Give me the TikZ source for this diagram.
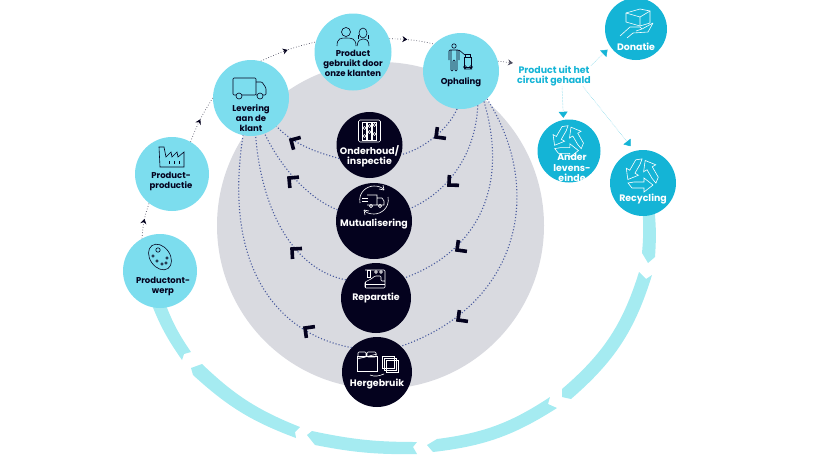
\documentclass[tikz,border=0pt]{standalone}
\usepackage{fontspec}
\setmainfont{Poppins}
\usepackage{xcolor}
\usetikzlibrary{arrows.meta,decorations.markings}
\definecolor{lightc}{HTML}{7CDDEE}
\definecolor{darkc}{HTML}{14B4D6}
\definecolor{bandc}{HTML}{A5EBF1}
\definecolor{greyc}{HTML}{D9DAE0}
\definecolor{inkc}{HTML}{04021E}
\definecolor{dotc}{HTML}{4A5B9E}
\tikzset{
    lightnode/.style={circle, fill=lightc, minimum size=#1, inner sep=0pt},
    darknode/.style={circle, fill=darkc, minimum size=#1, inner sep=0pt},
    blacknode/.style={circle, fill=inkc, minimum size=#1, inner sep=0pt},
    inktext/.style={inner sep=0pt, align=center, text=inkc, font=\bfseries\fontsize{8.5}{10}\selectfont},
    whitetext/.style={inner sep=0pt, align=center, text=white, font=\bfseries\fontsize{9.4}{10.5}\selectfont},
    outtext/.style={inner sep=0pt, align=center, text=darkc, font=\bfseries\fontsize{9.4}{10.5}\selectfont},
    band/.style={fill=bandc},
    cycleline/.style={dotted, line width=0.7pt, draw=inkc!70},
    midarrow/.style={postaction={decorate}, decoration={markings, mark=at position #1 with {\arrow[inkc]{Stealth[length=5pt,width=6pt]}}}},
    loopline/.style={line width=1.1pt, dash pattern=on 1.1pt off 2pt, draw=dotc},
    outline/.style={-{Triangle[length=6pt,width=9pt,color=darkc]}, densely dotted, line width=0.5pt, draw=darkc!60},
    inkicon/.style={draw=inkc, line width=0.6pt},
    whiteicon/.style={draw=white, line width=0.6pt},
    chevron/.pic={\draw[inkc, line width=3.6pt] (10,0) -- (0,0) -- (0,10);},
    truckicon/.pic={
        \draw[inkicon, rounded corners=1pt] (-16,-10) rectangle (7,7);
        \draw[inkicon, rounded corners=1pt] (7,-6) -- (13,-6) -- (17,0) -- (17,7) -- (7,7);
        \draw[inkicon, fill=lightc] (-10,8) circle (3) (11,8) circle (3);
    },
    peopleicon/.pic={
        \draw[inkicon] (-7,-6) circle (4.5);
        \draw[inkicon] (-16,8) .. controls (-16,0) and (-12,0) .. (-7,0) .. controls (-2,0) and (3,0) .. (3,8);
        \draw[inkicon] (10,-5) ellipse (4 and 5);
        \draw[inkicon] (5,-3) -- (5,1) (15,-3) -- (15,1);
        \draw[inkicon] (4,8) .. controls (5,2) and (7,1) .. (10,1) .. controls (14,1) and (16,3) .. (16,8);
    },
    factoryicon/.pic={
        \draw[inkicon] (-12,10) -- (-13,-10) -- (-8,-10) -- (-6,0) -- (-1,-5) -- (0,0) -- (5,-5) -- (6,0) -- (12,-5) -- (12,10) -- cycle;
        \draw[inkicon] (-3,4) -- (-3,7) (2,4) -- (2,7) (7,4) -- (7,7);
    },
    paletteicon/.pic={
        \draw[inkicon, rotate=35] (0,0) ellipse (10 and 14);
        \draw[inkicon] (-2,-7) circle (2.2) (-7,-1) circle (1.3) (-3,4) circle (1.3) (2,7) circle (1.3) (6,6) circle (1.3) (7,1) circle (1.3);
    },
    persontrolley/.pic={
        \draw[inkicon] (-7,-12) circle (2.2);
        \draw[inkicon, rounded corners=1pt] (-12,2) -- (-12,-8) -- (-2,-8) -- (-2,2) (-10,-8) -- (-10,13) -- (-8,13) -- (-8,2) -- (-6,2) -- (-6,13) -- (-4,13) -- (-4,-8);
        \draw[inkicon] (-2,-8) -- (4,-3);
        \draw[inkicon] (3,-1) rectangle (10,9) (4,-4) rectangle (9,-1);
        \draw[inkicon] (4,9) circle (1.5) (10,9) circle (1.5) (3,11) -- (11,11);
    },
    handbox/.pic={
        \draw[whiteicon] (-10,-8) -- (4,-12) -- (14,-10) -- (14,2) -- (4,5) -- (-10,1) -- cycle;
        \draw[whiteicon] (-10,-8) -- (4,-4) -- (14,-10) (4,-4) -- (4,5);
        \draw[whiteicon] (-16,15) -- (-6,6) -- (4,6) -- (6,8) -- (0,10) (6,8) -- (17,2) (17,2) -- (12,11) -- (-3,12) -- (-9,17);
    },
    recycleicon/.pic={
        \foreach \a in {0,120,240}{
            \draw[whiteicon, rotate=\a] (-8,7) -- (2,7) -- (2,3) -- (11,10) -- (2,17) -- (2,13) -- (-10,13) -- (-14,8) -- cycle;
        }
    },
    slidericon/.pic={
        \draw[whiteicon, rounded corners=1.5pt] (-11,-11) rectangle (11,11);
        \draw[whiteicon] (-7,-9) rectangle (-3,9) (-2,-9) rectangle (2,9) (3,-9) rectangle (7,9);
        \draw[whiteicon] (-5,-3) circle (1.5) (-5,5) circle (1.5) (0,-5) circle (1.5) (0,1) circle (1.5) (5,-6) circle (1.5) (5,3) circle (1.5);
    },
    cycletruck/.pic={
        \draw[whiteicon] (-14,3) .. controls (-16,-8) and (-7,-14) .. (0,-14) .. controls (4,-14) and (8,-13) .. (10,-10);
        \draw[whiteicon] (14,-3) .. controls (16,8) and (7,14) .. (0,14) .. controls (-4,14) and (-8,13) .. (-10,10);
        \draw[whiteicon] (10,-10) -- (5,-11) (10,-10) -- (9,-15) (-10,10) -- (-5,11) (-10,10) -- (-9,15);
        \draw[whiteicon] (-7,-5) -- (3,-5) -- (3,5) -- (-7,5) (3,-2) -- (8,-2) -- (10,1) -- (10,5) -- (3,5);
        \draw[whiteicon] (-12,-2) -- (-6,-2) (-12,1) -- (-6,1);
        \draw[whiteicon] (-3,6) circle (1.6) (6,6) circle (1.6);
    },
    sewingicon/.pic={
        \draw[whiteicon, rounded corners=1pt] (-10,-9) -- (10,-9) -- (10,9) -- (-10,9) -- (-10,3) -- (-4,0) -- (0,-3) -- (6,-3) -- (6,2) -- (10,2);
        \draw[whiteicon] (-10,3) -- (-10,9) (-8,-9) rectangle (-5,-2);
        \draw[whiteicon] (1,-7) circle (1.4) (6,-7) circle (1.4);
        \draw[whiteicon] (-10,5) -- (10,5);
    },
    bedicon/.pic={
        \draw[whiteicon] (-20,-5) rectangle (0,10);
        \draw[whiteicon] (-20,-2) -- (0,-7);
        \draw[whiteicon, rounded corners=1pt] (-19,-9) rectangle (-11,-4) (-10,-9) rectangle (-1,-4);
        \draw[whiteicon] (-7,14) .. controls (-2,16) and (2,15) .. (7,13);
        \draw[whiteicon] (7,-3) rectangle (19,9) (5,-5) rectangle (17,7) (9,-1) rectangle (21,11);
        \draw[whiteicon, fill=inkc] (9,-1) rectangle (17,7);
    }
}
\begin{document}
\begin{tikzpicture}[x=1pt, y=-1pt]
\useasboundingbox (0,0) rectangle (840,472);

\fill[band] (642,205) to[bend left=5] (642,253) -- (648,263) -- (655,257) to[bend right=5] (654,205) -- cycle;
\fill[band] (639,272) to[bend left=16] (562,389) -- (562,397) -- (571,399) to[bend right=16] (652,275) -- (646,279) -- cycle;
\fill[band] (550,397) to[bend left=13] (437,439) -- (427,445) -- (433,452) to[bend right=13] (557,408) -- (548,404) -- cycle;
\fill[band] (417,442) to[bend left=6] (312,431) -- (307,435) -- (315,445) to[bend right=6] (417,454) -- (413,447) -- cycle;
\fill[band] (300,427) to[bend left=11] (202,364) -- (191,368) -- (193,375) to[bend right=11] (296,438) -- (295,432) -- cycle;
\fill[band] (191,352) to[bend left=7] (164,300) -- (150,300) to[bend right=7] (182,360) -- (184,354) -- cycle;

\node[circle, fill=greyc, minimum size=327pt, inner sep=0pt] (plate) at (380.5,225.5) {};

\node[lightnode=74pt] (ontwerp) at (160,271) {};
\node[lightnode=74pt] (productie) at (172,174) {};
\node[lightnode=76pt] (levering) at (251,98) {};
\node[lightnode=77pt] (klanten) at (353,52) {};
\node[lightnode=76pt] (ophaling) at (461,71) {};
\node[darknode=62pt] (donatie) at (636,29) {};
\node[darknode=63pt] (ander) at (569,151) {};
\node[darknode=66pt] (recycling) at (643,183) {};
\node[blacknode=66pt] (onderhoud) at (369.5,145) {};
\node[blacknode=76pt] (mutual) at (374,221) {};
\node[blacknode=70pt] (reparatie) at (376,298) {};
\node[blacknode=70pt] (hergebruik) at (377,372) {};

\node[outtext] (uit) at (554,76) {Product uit het\\circuit gehaald};
\coordinate (uitin) at (513,63);

\draw[cycleline, midarrow=0.55] (ontwerp.119) to[bend left=8] (productie.232);
\draw[cycleline, midarrow=0.5] (productie.60) to[bend left=6] (levering.180);
\draw[cycleline, midarrow=0.5] (levering.75) to[bend left=6] (klanten.165);
\draw[cycleline, midarrow=0.4] (klanten.20) to[bend left=6] (ophaling.135);
\draw[cycleline, -{Stealth[length=5pt,width=6pt]}] (ophaling.15) -- (uitin);

\draw[outline, shorten >=4pt] (uit.north east) -- (donatie.215);
\draw[outline, shorten >=2pt] ([xshift=8pt]uit.south) -- (ander.100);
\draw[outline, shorten >=6pt] ([xshift=-8pt]uit.south east) -- (recycling.105);

\draw[loopline] (onderhoud.204) .. controls (320,153) and (295,146) .. (levering.-48);
\draw[loopline] (mutual.163) .. controls (312,200) and (283,172) .. (levering.-69);
\draw[loopline] (reparatie.149) .. controls (296,270) and (262,215) .. (levering.-83);
\draw[loopline] (hergebruik.136) .. controls (280,335) and (222,270) .. (levering.-102);
\draw[loopline] (ophaling.-96) .. controls (447,132) and (420,150) .. (onderhoud.-17);
\draw[loopline] (ophaling.-64) .. controls (476,150) and (452,190) .. (mutual.19);
\draw[loopline] (ophaling.-53) .. controls (510,190) and (475,252) .. (reparatie.35);
\draw[loopline] (ophaling.-47) .. controls (545,190) and (520,305) .. (hergebruik.47);

\pic[rotate=15] at (291,140) {chevron};
\pic[rotate=5] at (289,178) {chevron};
\pic[rotate=3] at (292,249) {chevron};
\pic[rotate=8] at (305,328) {chevron};
\pic[rotate=82] at (436,137) {chevron};
\pic[rotate=88] at (449,185) {chevron};
\pic[rotate=82] at (457,250) {chevron};
\pic[rotate=82] at (458,320) {chevron};

\node[inktext] (ontwerptxt) at (163,286) {Productont-\\werp};
\node[inktext] (productietxt) at (171,181) {Product-\\productie};
\node[inktext] (leveringtxt) at (251,118) {Levering\\aan de\\klant};
\node[inktext] (klantentxt) at (353,63) {Product\\gebruikt door\\onze klanten};
\node[inktext] (ophalingtxt) at (461,82) {Ophaling};
\node[whitetext] (donatietxt) at (636,47) {Donatie};
\node[whitetext] (andertxt) at (572,168) {Ander\\levens-\\einde};
\node[whitetext] (recyclingtxt) at (643,199) {Recycling};
\node[whitetext] (onderhoudtxt) at (369.5,156.5) {Onderhoud/\\inspectie};
\node[whitetext] (mutualtxt) at (374,224) {Mutualisering};
\node[whitetext] (reparatietxt) at (376,298) {Reparatie};
\node[whitetext] (hergebruiktxt) at (377,384) {Hergebruik};

\pic at (249,88) {truckicon};
\pic at (353,38) {peopleicon};
\pic at (172,157) {factoryicon};
\pic at (160,257) {paletteicon};
\pic at (461,58) {persontrolley};
\pic at (636,21) {handbox};
\pic at (642,175) {recycleicon};
\pic[scale=0.95] at (568,141) {recycleicon};
\pic at (369.5,131) {slidericon};
\pic at (374,200) {cycletruck};
\pic at (375,279) {sewingicon};
\pic at (377,361) {bedicon};
\end{tikzpicture}
\end{document}
